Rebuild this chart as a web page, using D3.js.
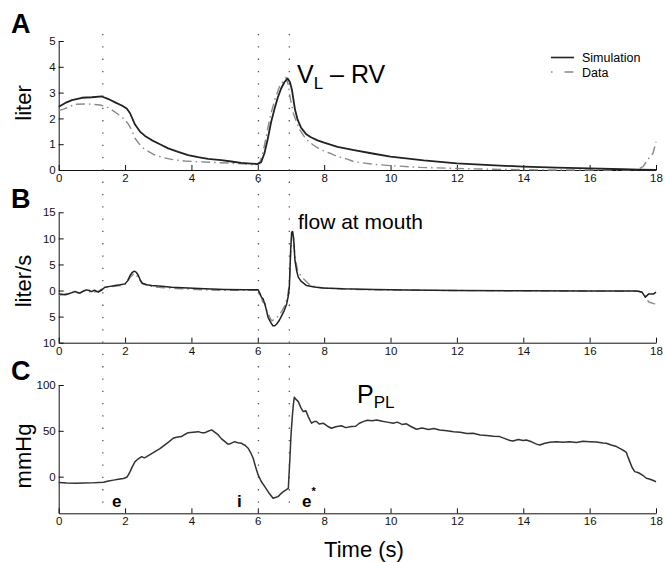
<!DOCTYPE html>
<html>
<head>
<meta charset="utf-8">
<script src="https://cdn.jsdelivr.net/npm/d3@7"></script>
<style>
  body { margin: 0; background: #fff; }
  svg { font-family: "Liberation Sans", Arial, Helvetica, sans-serif; }
  .tick text { font-size: 11.5px; fill: #111; }
  .domain, .tick line { stroke: #111; }
</style>
</head>
<body>
<div id="chart"></div>
<script>
// time axis
const timeTicks = [0, 2, 4, 6, 8, 10, 12, 14, 16, 18];
const phaseMarks = [1.33, 6.02, 6.95];

// panel A: VL - RV (liter)
const volTicks = [0, 1, 2, 3, 4, 5];
const volSim = [
  [0, 2.45], [0.2, 2.6], [0.4, 2.71], [0.7, 2.8], [1.0, 2.82], [1.3, 2.85], [1.5, 2.75],
  [1.7, 2.62], [1.9, 2.5], [2.05, 2.38], [2.15, 2.2], [2.3, 1.76], [2.45, 1.49], [2.6, 1.32],
  [2.8, 1.16], [3.05, 1.0], [3.3, 0.84], [3.6, 0.7], [3.9, 0.58], [4.2, 0.5], [4.5, 0.43],
  [4.9, 0.38], [5.2, 0.33], [5.5, 0.28], [5.8, 0.25], [6.0, 0.23], [6.1, 0.3], [6.2, 0.65],
  [6.3, 1.2], [6.4, 1.85], [6.5, 2.35], [6.6, 2.8], [6.7, 3.15], [6.8, 3.4], [6.9, 3.55],
  [6.97, 3.4], [7.03, 3.1], [7.12, 2.35], [7.2, 1.95], [7.3, 1.65], [7.45, 1.4], [7.6, 1.27],
  [7.8, 1.15], [8.0, 1.06], [8.4, 0.9], [8.9, 0.77], [9.5, 0.63], [10.0, 0.52], [11.0, 0.37],
  [12.0, 0.26], [13.0, 0.19], [14.0, 0.13], [15.0, 0.09], [16.0, 0.06], [17.0, 0.03],
  [17.5, 0.01], [18, 0]
];
const volData = [
  [0, 2.3], [0.15, 2.36], [0.5, 2.55], [0.9, 2.56], [1.25, 2.52], [1.45, 2.45], [1.6, 2.33],
  [1.8, 2.15], [1.95, 2.0], [2.1, 1.78], [2.2, 1.55], [2.3, 1.23], [2.42, 1.02], [2.55, 0.85],
  [2.75, 0.68], [2.9, 0.58], [3.15, 0.48], [3.4, 0.41], [3.8, 0.35], [4.2, 0.32], [4.7, 0.29],
  [5.3, 0.26], [5.7, 0.23], [5.95, 0.19], [6.08, 0.35], [6.16, 0.71], [6.24, 1.2], [6.31, 1.68],
  [6.4, 2.2], [6.51, 2.71], [6.67, 3.29], [6.85, 3.59], [6.92, 3.3], [6.97, 2.84], [7.07, 2.2],
  [7.17, 1.85], [7.27, 1.55], [7.45, 1.2], [7.67, 0.97], [7.87, 0.8], [8.17, 0.65], [8.4, 0.52],
  [8.7, 0.42], [8.9, 0.32], [9.5, 0.22], [10.0, 0.17], [10.9, 0.1], [12.0, 0.06], [13.0, 0.03],
  [14.0, 0.01], [15, 0], [17.4, 0], [17.61, 0.13], [17.75, 0.4], [17.91, 0.65], [18, 1.1]
];

// panel B: flow at mouth (liter/s)
const flowTicks = [-10, -5, 0, 5, 10, 15];
const flowSim = [
  [0, -0.64], [0.1, -0.7], [0.2, -0.83], [0.3, -0.6], [0.4, -0.4], [0.49, -0.19], [0.57, -0.35],
  [0.64, -0.5], [0.74, -0.1], [0.84, 0.13], [0.92, 0.0], [0.99, -0.2], [1.08, 0.05], [1.19, -0.32],
  [1.3, 0.1], [1.39, 0.64], [1.55, 0.8], [1.7, 0.96], [1.85, 1.1], [2.0, 1.28], [2.08, 1.9],
  [2.15, 2.88], [2.22, 3.5], [2.28, 3.72], [2.34, 3.5], [2.4, 2.88], [2.46, 2.0], [2.52, 1.41],
  [2.65, 1.1], [2.8, 0.96], [3.1, 0.8], [3.4, 0.64], [3.9, 0.48], [4.4, 0.32], [5.0, 0.2],
  [5.6, 0.13], [6.01, 0.13], [6.06, -0.5], [6.11, -1.28], [6.16, -1.6], [6.21, -2.56],
  [6.26, -3.8], [6.31, -5.13], [6.38, -6.0], [6.45, -6.73], [6.51, -6.75], [6.57, -6.41],
  [6.65, -5.7], [6.72, -4.8], [6.8, -3.8], [6.87, -2.56], [6.92, -1.0], [6.95, 0.64],
  [6.97, 4.0], [6.99, 7.7], [7.02, 11.2], [7.05, 11.3], [7.08, 10.0], [7.12, 5.77], [7.17, 3.8],
  [7.22, 2.56], [7.3, 1.8], [7.47, 0.96], [7.7, 0.7], [7.97, 0.51], [8.57, 0.32], [9.5, 0.2],
  [10.5, 0.1], [12.0, 0.0], [14.0, -0.05], [16.0, -0.1], [17.4, -0.1], [17.58, -0.3],
  [17.68, -1.3], [17.78, -0.64], [17.93, -0.64], [18, -0.3]
];
const flowData = [
  [0, -0.9], [0.15, -0.75], [0.3, -0.5], [0.45, -0.3], [0.6, -0.55], [0.8, 0.0], [1.0, -0.4],
  [1.2, -0.1], [1.35, 0.5], [1.6, 0.75], [1.9, 1.0], [2.05, 1.4], [2.15, 2.5], [2.27, 3.3],
  [2.38, 2.6], [2.5, 1.4], [2.7, 0.9], [3.0, 0.6], [3.5, 0.4], [4.0, 0.25], [4.5, 0.1],
  [5.0, 0.05], [5.5, 0.05], [6.0, 0.05], [6.05, -0.8], [6.1, -1.2], [6.15, -2.2], [6.22, -2.5],
  [6.28, -4.0], [6.35, -5.0], [6.42, -5.8], [6.5, -5.5], [6.6, -5.0], [6.72, -4.0], [6.82, -2.8],
  [6.9, -1.2], [6.95, 1.5], [6.99, 7.0], [7.03, 11.0], [7.07, 10.5], [7.12, 6.5], [7.2, 3.8],
  [7.3, 2.8], [7.45, 1.8], [7.55, 1.2], [7.8, 0.6], [8.2, 0.4], [9.0, 0.2], [10.0, 0.1],
  [12.0, 0.0], [14.0, -0.05], [16, -0.1], [17.5, -0.15], [17.68, -1.0], [17.78, -2.2],
  [17.93, -2.5], [18, -2.6]
];

// panel C: pleural pressure (mmHg)
const pressTicks = [0, 50, 100];
const pressPL = [
  [0, -6.5], [0.25, -7.0], [0.5, -7.2], [0.75, -7.0], [1.0, -6.8], [1.2, -6.5], [1.35, -6.2],
  [1.5, -4.7], [1.65, -3.8], [1.8, -2.9], [1.95, -2.0], [2.05, -0.7], [2.1, 2.0], [2.15, 5.5],
  [2.22, 11.0], [2.3, 16.4], [2.4, 19.5], [2.5, 21.8], [2.58, 20.5], [2.65, 21.8], [2.75, 24.0],
  [2.9, 27.3], [3.05, 30.5], [3.2, 34.6], [3.32, 38.0], [3.45, 41.9], [3.55, 43.0], [3.7, 43.7],
  [3.8, 46.0], [3.9, 48.0], [4.05, 48.5], [4.21, 49.1], [4.3, 48.0], [4.41, 48.0], [4.5, 49.5],
  [4.61, 51.0], [4.7, 48.5], [4.81, 45.5], [4.9, 41.5], [5.01, 38.2], [5.1, 35.5], [5.16, 35.7],
  [5.3, 38.2], [5.4, 37.0], [5.51, 36.4], [5.62, 34.0], [5.71, 31.0], [5.8, 25.0], [5.86, 20.0],
  [5.93, 11.0], [6.01, 1.9], [6.1, -5.0], [6.21, -10.9], [6.33, -17.5], [6.46, -23.6],
  [6.55, -22.5], [6.61, -21.8], [6.7, -18.5], [6.77, -16.4], [6.85, -14.5], [6.92, -12.7],
  [6.97, 21.8], [7.0, 45.0], [7.04, 65.5], [7.07, 78.0], [7.1, 86.7], [7.16, 84.0], [7.22, 81.9],
  [7.3, 75.0], [7.37, 71.0], [7.45, 72.0], [7.52, 65.5], [7.58, 61.0], [7.62, 58.3], [7.7, 60.1],
  [7.77, 60.1], [7.85, 57.5], [7.97, 58.3], [8.1, 55.0], [8.22, 52.8], [8.35, 54.5], [8.52, 55.5],
  [8.65, 53.5], [8.82, 54.6], [8.95, 55.0], [9.05, 58.0], [9.17, 60.0], [9.3, 61.5], [9.45, 61.0],
  [9.58, 61.9], [9.75, 60.5], [9.9, 59.5], [10.08, 58.3], [10.2, 59.5], [10.35, 57.0],
  [10.48, 57.6], [10.6, 55.0], [10.78, 51.7], [10.95, 53.0], [11.15, 51.5], [11.3, 52.5],
  [11.48, 51.0], [11.7, 50.0], [11.9, 49.0], [12.1, 48.5], [12.3, 47.0], [12.49, 47.3],
  [12.7, 45.5], [12.9, 45.0], [13.1, 44.0], [13.29, 43.7], [13.45, 41.5], [13.6, 39.5],
  [13.69, 39.0], [13.85, 40.5], [14.0, 39.5], [14.09, 40.0], [14.25, 38.0], [14.4, 35.5],
  [14.5, 34.6], [14.65, 36.5], [14.8, 37.5], [15.0, 38.2], [15.2, 37.5], [15.4, 38.0],
  [15.6, 37.2], [15.8, 38.5], [16.0, 38.2], [16.2, 37.8], [16.4, 36.8], [16.5, 36.4],
  [16.65, 34.5], [16.81, 32.8], [16.95, 30.0], [17.05, 28.0], [17.11, 26.2], [17.16, 21.0],
  [17.21, 16.4], [17.28, 10.0], [17.36, 5.5], [17.45, 4.5], [17.5, 3.7], [17.6, 1.5],
  [17.71, -1.8], [17.8, -2.5], [17.9, -4.0], [18, -5.5]
];

const width = 665, height = 562;
const svg = d3.select('#chart').append('svg')
  .attr('width', width)
  .attr('height', height);

// shared time scale
const x = d3.scaleLinear().domain([0, 18]).range([58.7, 656]);

const panels = [
  { key: 'A', yDomain: [0, 5], top: 41, bottom: 170, ticks: volTicks,
    ylabel: 'liter', ylabelY: 103, letterY: 33 },
  { key: 'B', yDomain: [-10, 15], top: 212.3, bottom: 342.7, ticks: flowTicks,
    ylabel: 'liter/s', ylabelY: 281, letterY: 208, fmt: d => Math.abs(d) },
  { key: 'C', yDomain: [-40, 100], top: 385, bottom: 513.3, ticks: pressTicks,
    ylabel: 'mmHg', ylabelY: 456, letterY: 380 }
];

panels.forEach(p => {
  p.y = d3.scaleLinear().domain(p.yDomain).range([p.bottom, p.top]);

  svg.append('g')
    .attr('transform', `translate(0,${p.bottom})`)
    .call(d3.axisBottom(x).tickValues(timeTicks).tickSizeInner(-5).tickSizeOuter(0).tickPadding(4))
    .call(g => g.selectAll('.tick text').attr('dy', '0.71em'));

  svg.append('g')
    .attr('transform', `translate(${x.range()[0]},0)`)
    .call(d3.axisLeft(p.y).tickValues(p.ticks).tickSizeInner(-5).tickSizeOuter(0).tickPadding(3)
      .tickFormat(p.fmt || (d => d)));

  // panel letter
  svg.append('text')
    .attr('x', 11).attr('y', p.letterY)
    .attr('font-size', 27).attr('font-weight', 'bold')
    .text(p.key);

  // y label
  svg.append('text')
    .attr('transform', `translate(31,${p.ylabelY}) rotate(-90)`)
    .attr('text-anchor', 'middle')
    .attr('font-size', 22)
    .text(p.ylabel);
});

const [pA, pB, pC] = panels;

// dotted phase markers through all panels
svg.append('g').selectAll('line')
  .data(phaseMarks)
  .join('line')
  .attr('x1', d => x(d)).attr('x2', d => x(d))
  .attr('y1', 34).attr('y2', 514)
  .attr('stroke', '#555')
  .attr('stroke-width', 1.3)
  .attr('stroke-dasharray', '1.3,11');

function drawLine(series, yScale, opts) {
  const line = d3.line().x(d => x(d[0])).y(d => yScale(d[1]));
  svg.append('path')
    .datum(series)
    .attr('fill', 'none')
    .attr('stroke', opts.color)
    .attr('stroke-width', opts.width)
    .attr('stroke-dasharray', opts.dash || null)
    .attr('stroke-linejoin', 'round')
    .attr('d', line);
}

const dataStyle = { color: '#8a8a8a', width: 1.4, dash: '9,4,1.5,4' };

drawLine(volData, pA.y, dataStyle);
drawLine(volSim, pA.y, { color: '#222', width: 1.8 });
drawLine(flowData, pB.y, dataStyle);
drawLine(flowSim, pB.y, { color: '#222', width: 1.5 });
drawLine(pressPL, pC.y, { color: '#333', width: 1.5 });

// legend
const legend = svg.append('g').attr('font-size', 12.5);
legend.append('line').attr('x1', 551).attr('x2', 574).attr('y1', 57.5).attr('y2', 57.5)
  .attr('stroke', '#222').attr('stroke-width', 1.6);
legend.append('text').attr('x', 582).attr('y', 62).text('Simulation');
legend.append('line').attr('x1', 551).attr('x2', 574).attr('y1', 72).attr('y2', 72)
  .attr('stroke', dataStyle.color).attr('stroke-width', 1.4).attr('stroke-dasharray', '1.5,12,9');
legend.append('text').attr('x', 582).attr('y', 77).text('Data');

// curve annotations
const vl = svg.append('text').attr('x', 297).attr('y', 83).attr('font-size', 25);
vl.append('tspan').text('V');
vl.append('tspan').attr('font-size', 17).attr('dy', 6).text('L');
vl.append('tspan').attr('dy', -6).text(' \u2013 RV');

svg.append('text').attr('x', 298).attr('y', 229).attr('font-size', 21).text('flow at mouth');

const ppl = svg.append('text').attr('x', 357).attr('y', 403).attr('font-size', 25);
ppl.append('tspan').text('P');
ppl.append('tspan').attr('font-size', 17).attr('dy', 5).text('PL');

// phase labels
const phase = svg.append('g').attr('font-size', 17).attr('font-weight', 'bold');
phase.append('text').attr('x', 112).attr('y', 507).text('e');
phase.append('text').attr('x', 237).attr('y', 507).text('i');
const es = phase.append('text').attr('x', 302).attr('y', 507).text('e');
es.append('tspan').attr('font-size', 11).attr('dy', -12).text('*');

// x label
svg.append('text')
  .attr('x', 364).attr('y', 557)
  .attr('text-anchor', 'middle')
  .attr('font-size', 22)
  .text('Time (s)');
</script>
</body>
</html>
